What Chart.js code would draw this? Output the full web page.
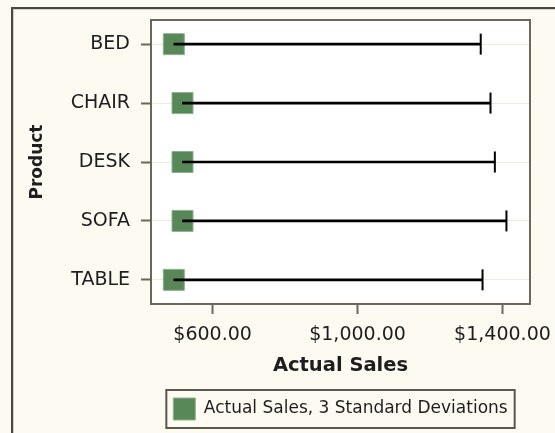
<!DOCTYPE html>
<html>
<head>
<meta charset="utf-8">
<script src="https://cdn.jsdelivr.net/npm/chart.js@4.4.1/dist/chart.umd.min.js"></script>
<style>
  html, body { margin: 0; padding: 0; background: #fdfaf2; }
  canvas { display: block; }
</style>
</head>
<body>
<canvas id="chart" width="555" height="433"></canvas>
<script>
// data
var products = ['BED', 'CHAIR', 'DESK', 'SOFA', 'TABLE'];
var actualSales = [493, 517, 517, 517, 493];
var upperLimit = [1340, 1367, 1379, 1411, 1345];
var xTicks = [600, 1000, 1400];
var legendLabel = 'Actual Sales, 3 Standard Deviations';

var frameColor = '#6b675b';
var green = '#588758';

Chart.defaults.font.family = 'DejaVu Sans';
Chart.defaults.color = '#1e1e1e';

function money(v) {
  return '$' + v.toLocaleString('en-US', {minimumFractionDigits: 2, maximumFractionDigits: 2});
}

var decor = {
  id: 'decor',
  beforeDraw: function(chart) {
    var ctx = chart.ctx, a = chart.chartArea;
    ctx.save();
    // outer page border
    ctx.strokeStyle = '#4a4740';
    ctx.lineWidth = 2;
    ctx.strokeRect(12, 8, 1000, 1000);
    ctx.strokeStyle = '#d6d2c4';
    ctx.lineWidth = 1;
    ctx.strokeRect(13.5, 9.5, 1000, 1000);
    // plot background
    ctx.fillStyle = '#ffffff';
    ctx.fillRect(a.left, a.top, a.right - a.left, a.bottom - a.top);
    ctx.restore();
  },
  afterDraw: function(chart) {
    var ctx = chart.ctx, a = chart.chartArea;
    ctx.save();
    ctx.strokeStyle = frameColor;
    ctx.lineWidth = 2;
    ctx.strokeRect(a.left, a.top, a.right - a.left, a.bottom - a.top);
    // legend border
    var hb = chart.legend.legendHitBoxes[0];
    if (hb) {
      ctx.strokeStyle = '#5a574e';
      ctx.strokeRect(hb.left - 7, hb.top - 8, hb.width + 14, hb.height + 16);
    }
    ctx.restore();
  }
};

var ctx = document.getElementById('chart').getContext('2d');
var chart = new Chart(ctx, {
  data: {
    datasets: [{
      type: 'bar',
      label: 'limit',
      indexAxis: 'y',
      data: products.map(function(p, i) { return {y: i, x: [actualSales[i], upperLimit[i]]}; }),
      backgroundColor: '#000000',
      barThickness: 2,
      order: 0
    }, {
      type: 'scatter',
      label: 'cap',
      data: products.map(function(p, i) { return {x: upperLimit[i], y: i}; }),
      pointStyle: 'line',
      rotation: 90,
      radius: 10.5,
      borderColor: '#000000',
      borderWidth: 2,
      order: 0
    }, {
      type: 'scatter',
      label: legendLabel,
      data: products.map(function(p, i) { return {x: actualSales[i], y: i}; }),
      pointStyle: 'rect',
      radius: 14.85,
      backgroundColor: green,
      borderColor: '#8fb08f',
      borderWidth: 1,
      order: 1
    }]
  },
  options: {
    responsive: false,
    animation: false,
    layout: { padding: { top: 20, right: 25, bottom: 3, left: 0 } },
    scales: {
      x: {
        type: 'linear',
        min: 430,
        max: 1476,
        offset: false,
        afterBuildTicks: function(s) { s.ticks = xTicks.map(function(v) { return {value: v}; }); },
        afterFit: function(s) { s.height = 84; s.paddingLeft = 0; s.paddingRight = 0; },
        border: { display: false },
        grid: { drawOnChartArea: false, tickLength: 10, tickColor: frameColor, tickWidth: 2 },
        ticks: { padding: 10, font: { size: 19 }, callback: function(v) { return money(v); } },
        title: { display: true, text: 'Actual Sales', font: { size: 19.5, weight: 'bold' }, padding: { top: 0, bottom: 10 } }
      },
      y: {
        type: 'linear',
        reverse: true,
        min: -0.41,
        max: 4.41,
        offset: false,
        afterBuildTicks: function(s) { s.ticks = products.map(function(p, i) { return {value: i}; }); },
        afterFit: function(s) { s.width = 151; s.paddingTop = 0; s.paddingBottom = 0; },
        border: { display: false },
        grid: { offset: false, color: '#ecebdc', lineWidth: 1, tickLength: 10, tickColor: frameColor, tickWidth: 2 },
        ticks: { padding: 11, font: { size: 19 }, callback: function(v) { return products[v]; } },
        title: { display: true, text: 'Product', font: { size: 17, weight: 'bold' }, padding: { top: 27, bottom: 0 } }
      }
    },
    plugins: {
      tooltip: { enabled: false },
      legend: {
        position: 'bottom',
        fullSize: false,
        labels: {
          boxWidth: 22,
          boxHeight: 22,
          padding: 10,
          font: { size: 17 },
          filter: function(item) { return item.text === legendLabel; }
        }
      }
    }
  },
  plugins: [decor]
});
</script>
</body>
</html>
